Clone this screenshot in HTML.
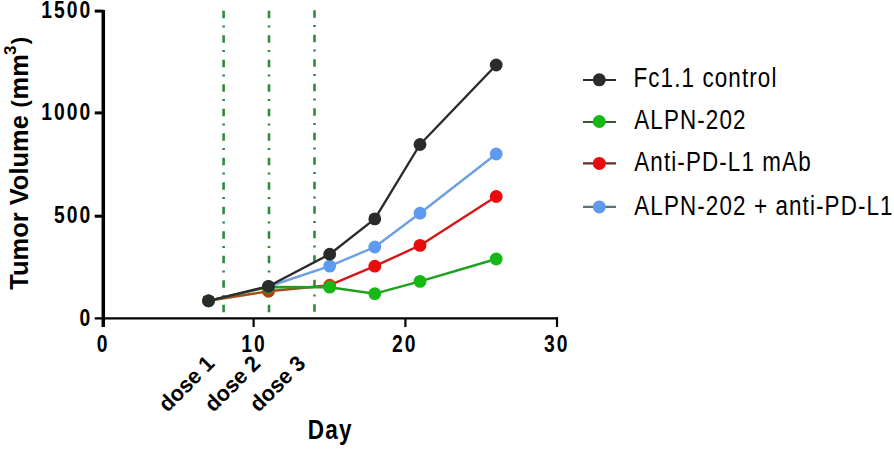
<!DOCTYPE html>
<html><head><meta charset="utf-8">
<style>
html,body{margin:0;padding:0;background:#fff;}
body{width:894px;height:449px;overflow:hidden;}
svg{display:block;}
text{font-family:"Liberation Sans",sans-serif;}
.b{font-weight:bold;fill:#000;}
.lg{font-size:28px;fill:#000;}
</style></head><body>
<svg width="894" height="449" viewBox="0 0 894 449">
<!-- dose lines -->
<g stroke="#2f8a3e" stroke-width="2.6" stroke-dasharray="7.5 7.2 2 7.8" fill="none">
<line x1="223.6" y1="10.7" x2="223.6" y2="317"/>
<line x1="269" y1="10.7" x2="269" y2="317"/>
<line x1="314.5" y1="10.2" x2="314.5" y2="317"/>
</g>
<!-- axes -->
<g stroke="#000" fill="none">
<line x1="103.3" y1="9.9" x2="103.3" y2="327" stroke-width="3.5"/>
<line x1="94.7" y1="11.1" x2="103.3" y2="11.1" stroke-width="3"/>
<line x1="94.7" y1="112.9" x2="103.3" y2="112.9" stroke-width="3"/>
<line x1="94.7" y1="216.2" x2="103.3" y2="216.2" stroke-width="3"/>
<line x1="94.7" y1="318.3" x2="558" y2="318.3" stroke-width="2.2"/>
<line x1="253.6" y1="318" x2="253.6" y2="327" stroke-width="2.2"/>
<line x1="405.4" y1="318" x2="405.4" y2="327" stroke-width="2.2"/>
<line x1="557" y1="317.2" x2="557" y2="327" stroke-width="2.2"/>
</g>
<!-- y labels -->
<g class="b" font-size="23" text-anchor="end" letter-spacing="2.4">
<text transform="translate(92.2,18.3) scale(0.84,1)">1500</text>
<text transform="translate(92.2,120.2) scale(0.84,1)">1000</text>
<text transform="translate(92.2,223.4) scale(0.84,1)">500</text>
<text transform="translate(92.2,325.6) scale(0.84,1)">0</text>
</g>
<!-- x labels -->
<g class="b" font-size="23" text-anchor="middle" letter-spacing="2.4">
<text transform="translate(103.1,352.3) scale(0.84,1)">0</text>
<text transform="translate(253.9,352.3) scale(0.84,1)">10</text>
<text transform="translate(404.8,352.3) scale(0.84,1)">20</text>
<text transform="translate(556.8,352.3) scale(0.84,1)">30</text>
</g>
<!-- dose labels -->
<g class="b" font-size="22" text-anchor="end">
<text transform="translate(215.8,364.8) rotate(-45) scale(0.98,1)">dose 1</text>
<text transform="translate(261.8,364.8) rotate(-45) scale(0.98,1)">dose 2</text>
<text transform="translate(306.8,364.8) rotate(-45) scale(0.98,1)">dose 3</text>
</g>
<!-- axis titles -->
<text class="b" font-size="28.5" transform="translate(307.8,438.6) scale(0.79,1)" letter-spacing="1.6">Day</text>
<text class="b" font-size="25.5" transform="translate(27.5,289.8) rotate(-90)">Tumor Volume <tspan font-size="22" dy="-0.8" dx="0.6">(</tspan><tspan dy="0.8" dx="0.6">mm</tspan><tspan font-size="17" dy="-11.8" dx="-1">3</tspan><tspan font-size="22" dy="11" dx="1.4">)</tspan></text>

<!-- data -->
<polyline fill="none" stroke-width="2.4" stroke-linejoin="round" stroke="#6a9fe6" points="208.5,300.8 268.5,286.5 329.7,266.1 374.8,247.0 420.0,213.2 496.2,154.0"/>
<g fill="#5e9af0"><circle cx="208.5" cy="300.8" r="6.4"/><circle cx="268.5" cy="286.5" r="6.4"/><circle cx="329.7" cy="266.1" r="6.4"/><circle cx="374.8" cy="247.0" r="6.4"/><circle cx="420.0" cy="213.2" r="6.4"/><circle cx="496.2" cy="154.0" r="6.4"/></g>
<polyline fill="none" stroke-width="2.4" stroke-linejoin="round" stroke="#a8481c" points="208.5,300.8 268.5,291.3 329.7,285.2"/>
<polyline fill="none" stroke-width="2.4" stroke-linejoin="round" stroke="#d41818" points="329.7,285.2 374.8,266.2 420.0,245.4 496.2,196.5"/>
<g fill="#e80c0c"><circle cx="208.5" cy="300.8" r="6.4"/><circle cx="268.5" cy="291.3" r="6.4" fill="#a8440f"/><circle cx="329.7" cy="285.2" r="6.4" fill="#d03a10"/><circle cx="374.8" cy="266.2" r="6.4"/><circle cx="420.0" cy="245.4" r="6.4"/><circle cx="496.2" cy="196.5" r="6.4"/></g>
<polyline fill="none" stroke-width="2.4" stroke-linejoin="round" stroke="#1fa01f" points="208.5,300.8 268.5,287.0 329.7,287.2 374.8,293.7 420.0,281.4 496.2,259.0"/>
<g fill="#15b815"><circle cx="208.5" cy="300.8" r="6.4"/><circle cx="268.5" cy="287.0" r="6.4"/><circle cx="329.7" cy="287.2" r="6.4"/><circle cx="374.8" cy="293.7" r="6.4"/><circle cx="420.0" cy="281.4" r="6.4"/><circle cx="496.2" cy="259.0" r="6.4"/></g>
<polyline fill="none" stroke-width="2.4" stroke-linejoin="round" stroke="#2b2b2b" points="208.5,300.8 268.5,286.3 329.7,254.2 374.8,218.9 420.0,144.5 496.2,65.0"/>
<g fill="#2b2b2b"><circle cx="208.5" cy="300.8" r="6.4"/><circle cx="268.5" cy="286.3" r="6.4"/><circle cx="329.7" cy="254.2" r="6.4"/><circle cx="374.8" cy="218.9" r="6.4"/><circle cx="420.0" cy="144.5" r="6.4"/><circle cx="496.2" cy="65.0" r="6.4"/></g>

<!-- legend -->
<g stroke-width="2.2">
<line x1="583" y1="80" x2="616" y2="80" stroke="#2b2b2b"/>
<line x1="583" y1="122" x2="616" y2="122" stroke="#2a5e30"/>
<line x1="583" y1="163.3" x2="616" y2="163.3" stroke="#6a2a2a"/>
<line x1="583" y1="206.8" x2="616" y2="206.8" stroke="#62707a"/>
</g>
<circle cx="599.3" cy="79.8" r="6.5" fill="#2b2b2b"/>
<circle cx="599.3" cy="121.5" r="6.5" fill="#15b815"/>
<circle cx="599.3" cy="163.4" r="6.5" fill="#e80c0c"/>
<circle cx="599.3" cy="206.9" r="6.5" fill="#5e9af0"/>
<g class="lg" letter-spacing="1.4">
<text transform="translate(633.5,86.8) scale(0.8,1)">Fc1.1 control</text>
<text transform="translate(634.3,129.1) scale(0.8,1)">ALPN-202</text>
<text transform="translate(634.3,171) scale(0.8,1)">Anti-PD-L1 mAb</text>
<text transform="translate(634.3,214.5) scale(0.8,1)">ALPN-202 + anti-PD-L1</text>
</g>
</svg>
</body></html>
